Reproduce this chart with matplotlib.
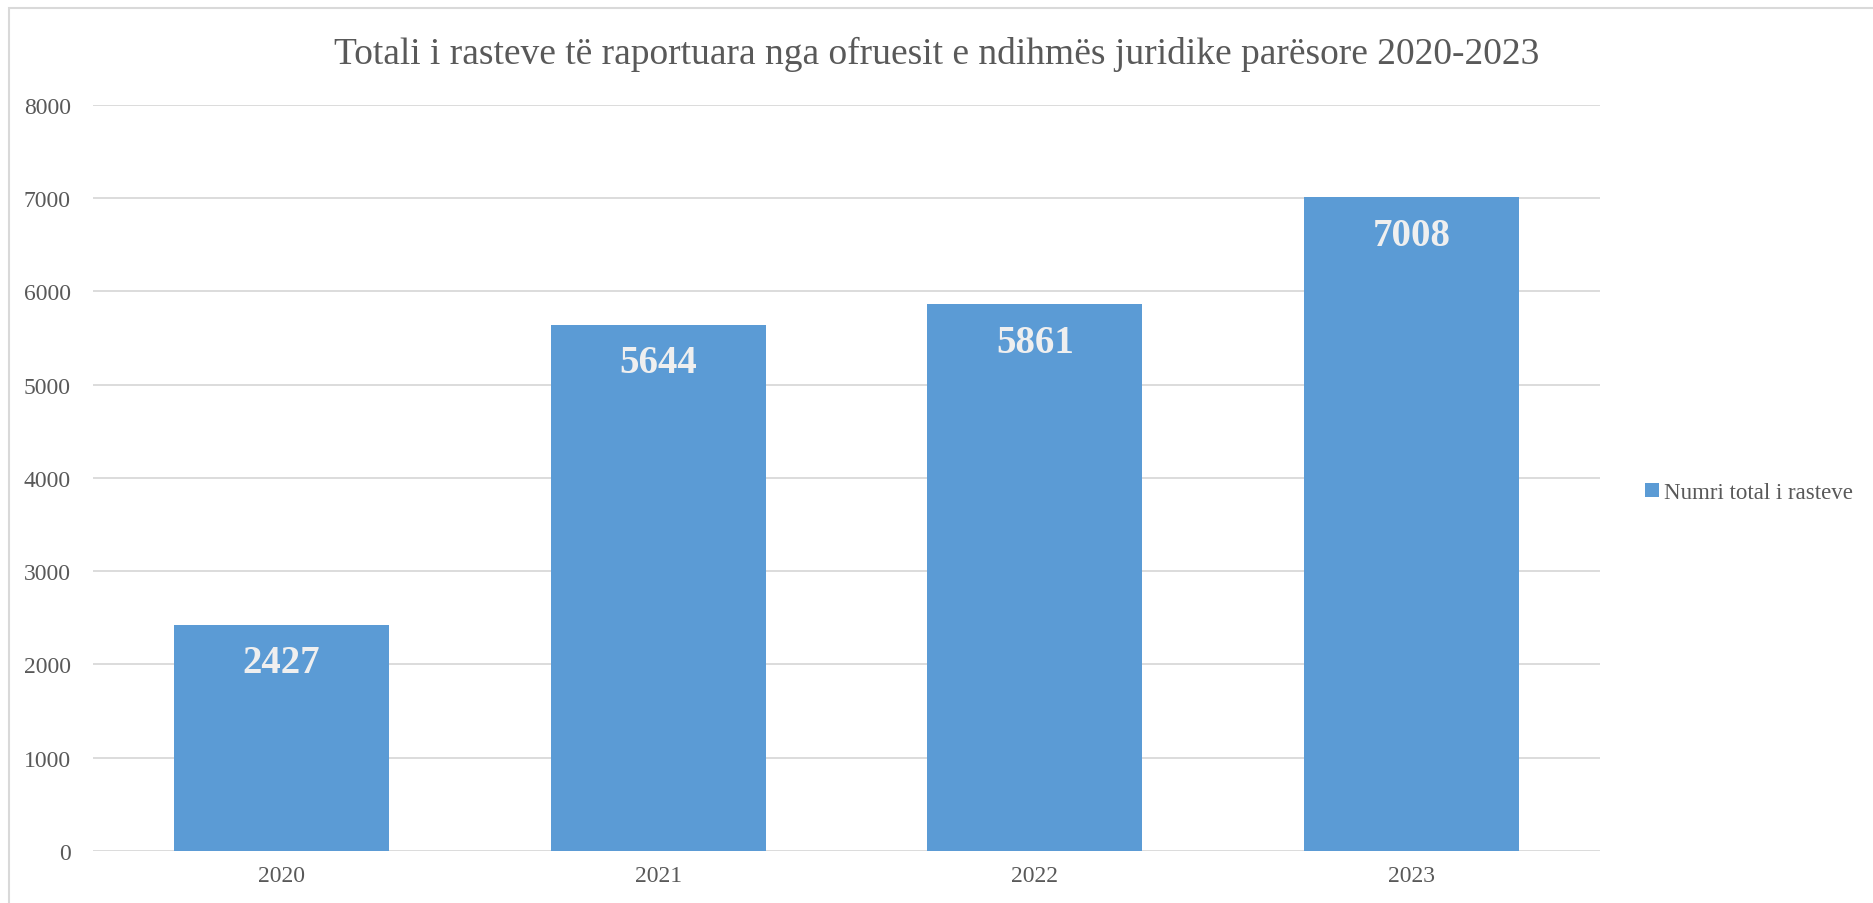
import matplotlib
matplotlib.use("Agg")
import matplotlib.pyplot as plt
from matplotlib.patches import Rectangle

years = ["2020", "2021", "2022", "2023"]
values = [2427, 5644, 5861, 7008]
series_name = "Numri total i rasteve"
title = "Totali i rasteve të raportuara nga ofruesit e ndihmës juridike parësore 2020-2023"
yticks = [0, 1000, 2000, 3000, 4000, 5000, 6000, 7000, 8000]

plt.rcParams['font.family'] = ['Liberation Serif', 'DejaVu Serif']
text_color = "#595959"
bar_color = "#5B9BD5"
grid_color = "#D9D9D9"

fig = plt.figure(figsize=(18.74, 9.04), dpi=100)
ax = fig.add_axes([0.0497, 0.0575, 0.804, 0.8255])

x = list(range(len(years)))
bars = ax.bar(x, values, width=0.57, color=bar_color, label=series_name, zorder=3)
ax.set_xlim(-0.5, len(years) - 0.5)
ax.set_ylim(0, 8000)
ax.set_yticks(yticks)
ax.set_yticklabels([str(v) for v in yticks])
ax.set_xticks(x)
ax.set_xticklabels(years)
ax.tick_params(axis='both', length=0, labelsize=17, colors=text_color)
ax.tick_params(axis='y', pad=16)
ax.tick_params(axis='x', pad=10)
ax.grid(axis='y', color=grid_color, linewidth=1.3, zorder=0)
for s in ax.spines.values():
    s.set_visible(False)

for b, v in zip(bars, values):
    ax.annotate(str(v), (b.get_x() + b.get_width() / 2, v), xytext=(0, -38),
                textcoords='offset pixels', ha='center', va='center',
                fontsize=28, fontweight='bold', color="#EFEFEF", zorder=4)

fig.text(0.5, 0.94, title, ha='center', va='center', fontsize=27, color=text_color)

leg = fig.legend(handles=[bars], labels=[series_name], loc='center left',
                 bbox_to_anchor=(0.867, 0.454), frameon=False, fontsize=16.5,
                 handlelength=0.6, handleheight=0.6, handletextpad=0.2,
                 labelcolor=text_color)

fig.patches.append(Rectangle((0.005, -0.05), 1.2, 1.04, transform=fig.transFigure,
                             fill=False, edgecolor=grid_color, linewidth=1.5))

fig.savefig("out.png", dpi=100)
